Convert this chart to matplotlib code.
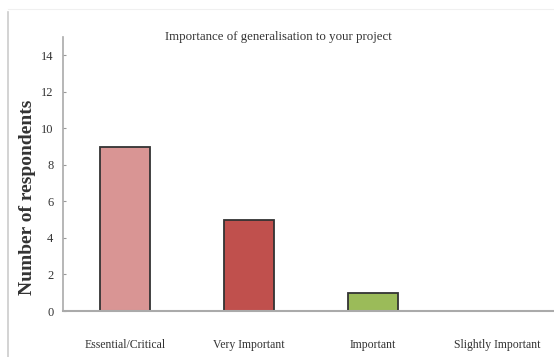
import numpy as np
import matplotlib.pyplot as plt
from matplotlib.lines import Line2D

categories = ['Essential/Critical', 'Very Important', 'Important', 'Slightly Important']
respondents = [9, 5, 1, 0]
bar_colors = ['#D99594', '#C0504D', '#9BBB59', '#4F81BD']
yticks = [0, 2, 4, 6, 8, 10, 12, 14]

plt.rcParams['font.family'] = ['Liberation Serif', 'DejaVu Serif']

W, H = 554, 357
fig = plt.figure(figsize=(W / 100, H / 100), dpi=100)
# axes box in pixel terms: left 63, bottom 311, top 37, x range runs past right edge
ax = fig.add_axes([63 / W, (H - 311) / H, 496 / W, (311 - 37) / H])

x = np.arange(len(categories))
ax.bar(x, respondents, width=0.41, color=bar_colors,
       edgecolor='#333333', linewidth=1.3)

ax.set_xlim(-0.5, 3.5)
ax.set_ylim(0, 15)
ax.set_yticks(yticks)
ax.set_yticklabels([str(t) for t in yticks], fontsize=9, color='#333333')
ax.set_xticks(x)
ax.set_xticklabels(categories, fontsize=8.5, color='#333333')
ax.tick_params(axis='y', direction='in', length=2, width=0.8, color='#999999', pad=7)
ax.tick_params(axis='x', length=0, pad=20)

for side in ['top', 'right']:
    ax.spines[side].set_visible(False)
ax.spines['left'].set_color('#aaaaaa')
ax.spines['left'].set_linewidth(1.2)
ax.spines['bottom'].set_color('#aaaaaa')
ax.spines['bottom'].set_linewidth(1.5)

ax.set_ylabel('Number of respondents', fontsize=14, fontweight='bold', color='#333333')
ax.yaxis.set_label_coords(-0.055, 0.416)
fig.text(278 / W, 1 - 37 / H, 'Importance of generalisation to your project',
         ha='center', va='center', fontsize=9.3, color='#333333')

# page border on the left and faint top rule
fig.add_artist(Line2D([8 / W, 8 / W], [0, 1 - 12 / H], color='#cccccc', lw=1.2))
fig.add_artist(Line2D([8 / W, 1], [1 - 9 / H, 1 - 9 / H], color='#f0f0f0', lw=0.8))

fig.savefig('out.png', dpi=100)
